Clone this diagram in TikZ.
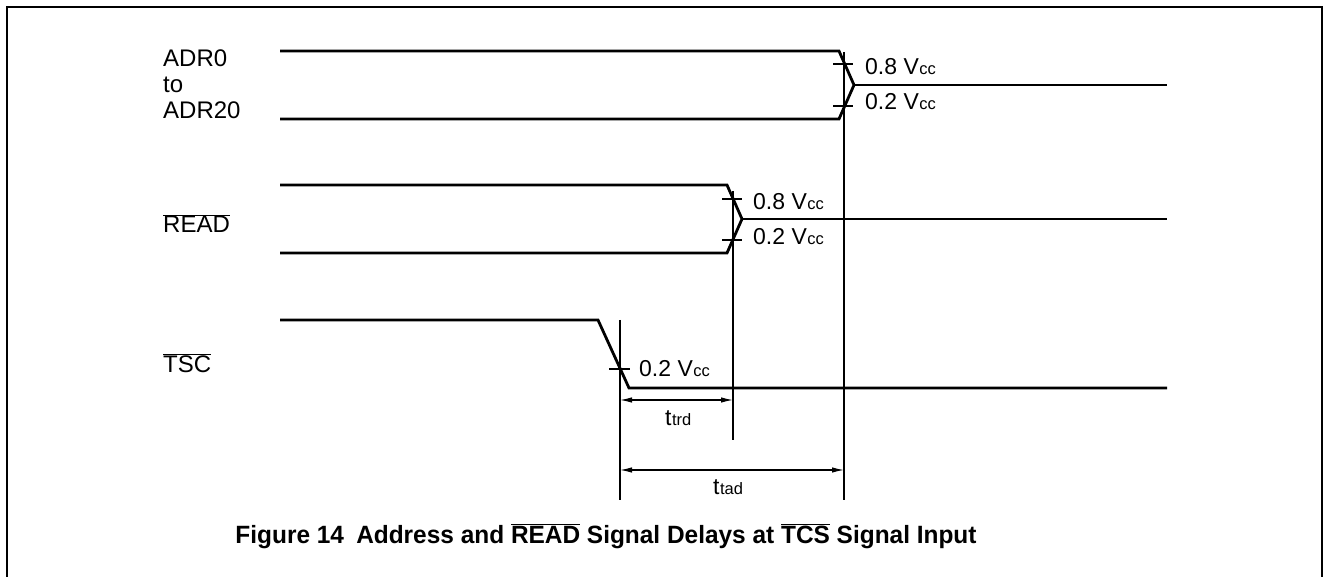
\documentclass[tikz,border=0pt]{standalone}
\usepackage{fontspec}
\usepackage{graphicx}
\setmainfont{Liberation Sans}
\usetikzlibrary{arrows.meta}
\newcommand\myvcc{V\kern0.5pt{\fontsize{16.5}{16.5}\selectfont cc}}
\newcommand\myovl[1]{$\overline{\hbox{#1}}$}
\begin{document}
\begin{tikzpicture}[x=1pt,y=-1pt,
  sig/.style={line width=2.8pt, line join=miter},
  guide/.style={line width=1.4pt},
  ticksty/.style={line width=1.2pt},
  dimsty/.style={line width=1.2pt, {Latex[length=12pt,width=5.5pt]}-{Latex[length=12pt,width=5.5pt]}},
  lbl/.style={inner sep=0pt, anchor=base west, font=\fontsize{24}{26}\selectfont},
  vlbl/.style={inner sep=0pt, anchor=base west, font=\fontsize{23}{26}\selectfont},
  tlbl/.style={inner sep=0pt, anchor=base west, font=\fontsize{23}{26}\selectfont},
  ]
\useasboundingbox (0,0) rectangle (1323,577);
\draw[line width=2pt] (7,590) -- (7,7) -- (1322,7) -- (1322,590);

% key points
\coordinate (a1) at (280,51);  \coordinate (a2) at (839,51);
\coordinate (a3) at (280,119); \coordinate (a4) at (839,119);
\coordinate (ax) at (854,85);  \coordinate (ae) at (1167,85);
\coordinate (r1) at (280,185); \coordinate (r2) at (727,185);
\coordinate (r3) at (280,253); \coordinate (r4) at (727,253);
\coordinate (rx) at (742,219); \coordinate (re) at (1167,219);
\coordinate (s1) at (280,320); \coordinate (s2) at (598,320);
\coordinate (s3) at (629,388); \coordinate (se) at (1167,388);

% signals
\draw[sig] (a1) -- (a2) -- (ax) -- (a4) -- (a3);
\draw[sig] (ax) -- (ae);
\draw[sig] (r1) -- (r2) -- (rx) -- (r4) -- (r3);
\draw[sig] (rx) -- (re);
\draw[sig] (s1) -- (s2) -- (s3) -- (se);

% guides
\coordinate (ga) at (844,52);  \coordinate (gab) at (844,500);
\coordinate (gr) at (733,191); \coordinate (grb) at (733,440);
\coordinate (gs) at (620,320); \coordinate (gsb) at (620,500);
\draw[guide] (ga) -- (gab);
\draw[guide] (gr) -- (grb);
\draw[guide] (gs) -- (gsb);

% ticks
\draw[ticksty] (833,64) -- (853,64);
\draw[ticksty] (833,106) -- (853,106);
\draw[ticksty] (722,199) -- (742,199);
\draw[ticksty] (722,240) -- (742,240);
\draw[ticksty] (609,369) -- (630,369);

% dimension arrows
\coordinate (d1a) at (620,400); \coordinate (d1b) at (733,400);
\coordinate (d2a) at (620,470); \coordinate (d2b) at (844,470);
\draw[dimsty] (d1a) -- (d1b);
\draw[dimsty] (d2a) -- (d2b);

% level labels
\node[vlbl] (l1) at (865,75) {0.8 \myvcc};
\node[vlbl] (l2) at (865,110) {0.2 \myvcc};
\node[vlbl] (l3) at (753,210) {0.8 \myvcc};
\node[vlbl] (l4) at (753,245) {0.2 \myvcc};
\node[vlbl] (l5) at (639,377) {0.2 \myvcc};

% timing labels
\node[tlbl] (t1) at (665,425) {t\kern0.5pt{\fontsize{16.5}{16.5}\selectfont trd}};
\node[tlbl] (t2) at (713,494) {t\kern0.5pt{\fontsize{16.5}{16.5}\selectfont tad}};

% signal names
\node[lbl] (n1) at (163,67) {ADR0};
\node[lbl] (n2) at (163,93) {to};
\node[lbl] (n3) at (163,119) {ADR20};
\node[lbl] (n4) at (163,233) {\myovl{READ}};
\node[lbl] (n5) at (163,372) {\myovl{TSC}};

% caption
\node[inner sep=0pt, anchor=base, font=\bfseries\fontsize{25}{25}\selectfont] (cap) at (606,543)
  {\resizebox{741pt}{\height}{Figure 14\enspace Address and \myovl{READ} Signal Delays at \myovl{TCS} Signal Input}};
\end{tikzpicture}
\end{document}
